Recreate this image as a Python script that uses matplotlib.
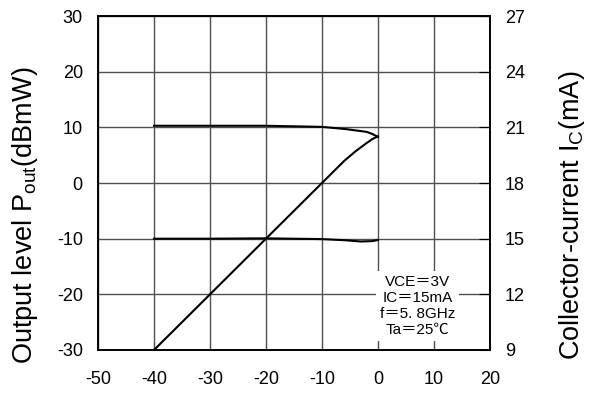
import matplotlib
matplotlib.use("Agg")
import matplotlib.pyplot as plt

plt.rcParams['font.family'] = ['Liberation Sans', 'Noto Sans CJK JP', 'DejaVu Sans']
plt.rcParams['axes.unicode_minus'] = False

# input level (dBmW)
pin = [-40, -30, -20, -10, -6, -4, -2, -1, 0]
# output level (dBmW)
pout = [-30, -20, -10, 0, 4, 5.7, 7.2, 7.9, 8.4]

# collector current curves (mA) vs input level
ic_x = [-40, -30, -20, -10, -5.7, -2, -1, 0]
ic_high = [21.09, 21.09, 21.09, 21.03, 20.91, 20.76, 20.65, 20.49]
ic_low_x = [-40, -30, -20, -10, -6, -3, -1, 0]
ic_low = [15.0, 15.0, 15.02, 14.98, 14.92, 14.85, 14.87, 14.93]

x_ticks = [-50, -40, -30, -20, -10, 0, 10, 20]
left_ticks = [-30, -20, -10, 0, 10, 20, 30]
right_ticks = [9, 12, 15, 18, 21, 24, 27]

cond_text = "VCE＝3V\nIC＝15mA\nf＝5. 8GHz\nTa＝25℃"

fig = plt.figure(figsize=(5.98, 3.94), dpi=100)
ax = fig.add_axes([0.164, 0.1117, 0.655, 0.8473])
ax2 = ax.twinx()

ax.plot(pin, pout, color="black", lw=1.5, zorder=3)
ax2.plot(ic_x, ic_high, color="black", lw=1.5)
ax2.plot(ic_low_x, ic_low, color="black", lw=1.5)

ax.set_xlim(-50, 20)
ax.set_ylim(-30, 30)
ax2.set_ylim(9, 27)
ax.set_xticks(x_ticks)
ax.set_yticks(left_ticks)
ax2.set_yticks(right_ticks)

ax.grid(True, color="#505050", lw=1)
ax.tick_params(axis="x", direction="in", length=5, labelsize=13, pad=15, color="#505050")
ax.tick_params(axis="y", direction="in", length=0, labelsize=13, pad=11)
ax2.tick_params(axis="y", direction="in", length=8, labelsize=13, pad=11)

for a in (ax, ax2):
    for s in a.spines.values():
        s.set_linewidth(1.2)

# axis titles sit a bit below the axes centre, as in the original sheet
fig.text(25 / 598, 1 - 215 / 394, "Output level P$_{\\mathregular{out}}$(dBmW)",
         rotation=90, ha="center", va="center", fontsize=19.5)
fig.text(572 / 598, 1 - 215 / 394, "Collector-current I$_{\\mathregular{C}}$(mA)",
         rotation=90, ha="center", va="center", fontsize=19.5)

ax.text(7.1, -22.1, cond_text, ha="center", va="center", fontsize=11,
        linespacing=1.2, zorder=4,
        bbox=dict(facecolor="white", edgecolor="none", pad=3))

fig.savefig("out.png", dpi=100)
